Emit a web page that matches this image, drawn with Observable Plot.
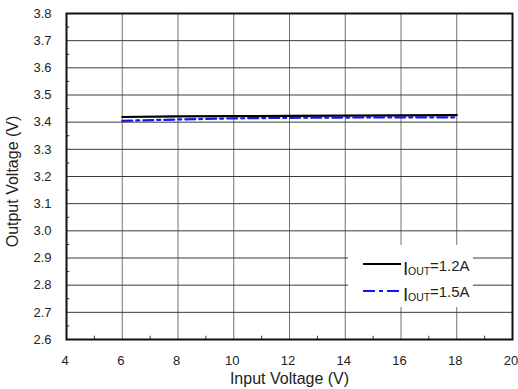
<!DOCTYPE html>
<html>
<head>
<meta charset="utf-8">
<script src="https://cdn.jsdelivr.net/npm/d3@7"></script>
<script src="https://cdn.jsdelivr.net/npm/@observablehq/plot@0.6"></script>
<style>
  html, body { margin: 0; padding: 0; background: #fff; }
  #chart { position: relative; width: 518px; height: 389px; font-family: "Liberation Sans", Arial, sans-serif; }
  #legend { position: absolute; left: 348px; top: 245px; width: 125px; height: 62px; background: #fff; }
</style>
</head>
<body>
<div id="chart"></div>
<script>
// Data
const vin = [6, 8, 10, 12, 14, 16, 18];
const vout12 = [3.419, 3.421, 3.422, 3.423, 3.424, 3.425, 3.426];
const vout15 = [3.405, 3.410, 3.414, 3.416, 3.417, 3.418, 3.418];
const xTicks = [4, 6, 8, 10, 12, 14, 16, 18, 20];
const yTicks = [2.6, 2.7, 2.8, 2.9, 3.0, 3.1, 3.2, 3.3, 3.4, 3.5, 3.6, 3.7, 3.8];
const xMinor = [5, 7, 9, 11, 13, 15, 17, 19];
const yMinor = [2.65, 2.75, 2.85, 2.95, 3.05, 3.15, 3.25, 3.35, 3.45, 3.55, 3.65, 3.75];
const seriesNames = ["1.2A", "1.5A"];
const xTitle = "Input Voltage (V)";
const yTitle = "Output Voltage (V)";

const d12 = vin.map((x, i) => ({x, y: vout12[i]}));
const d15 = vin.map((x, i) => ({x, y: vout15[i]}));

const plot = Plot.plot({
  width: 518,
  height: 389,
  marginLeft: 66,
  marginRight: 6,
  marginTop: 13,
  marginBottom: 50,
  style: {fontFamily: "'Liberation Sans', Arial, sans-serif", fontSize: "13px", color: "#222", background: "#fff"},
  x: {domain: [4, 20]},
  y: {domain: [2.6, 3.8]},
  marks: [
    Plot.gridX(xTicks, {stroke: "#707070", strokeOpacity: 1, strokeWidth: 1}),
    Plot.gridY(yTicks, {stroke: "#3a3a3a", strokeOpacity: 1, strokeWidth: 1}),
    Plot.ruleY(yMinor, {x1: 4, x2: 4.12, stroke: "#333", strokeWidth: 1}),
    Plot.ruleX(xMinor, {y1: 2.6, y2: 2.612, stroke: "#333", strokeWidth: 1}),
    Plot.line(d12, {x: "x", y: "y", stroke: "#000", strokeWidth: 2.2}),
    Plot.line(d15, {x: "x", y: "y", stroke: "#1515ee", strokeWidth: 2.2, strokeDasharray: "10,4,3,4"}),
    Plot.frame({stroke: "#111", strokeWidth: 2}),
    Plot.axisX({ticks: xTicks, tickSize: 0, tickPadding: 16, dx: -1.5, label: null, fontSize: 13}),
    Plot.axisY({ticks: yTicks, tickSize: 0, tickPadding: 15, label: null, fontSize: 13, tickFormat: d3.format(".1f")}),
    Plot.text([xTitle], {frameAnchor: "bottom", textAnchor: "middle", dy: 44, fontSize: 16, fill: "#222"}),
    Plot.text([yTitle], {frameAnchor: "left", textAnchor: "middle", dx: -54, dy: 5, rotate: -90, fontSize: 16, fill: "#222"})
  ]
});

const chart = document.getElementById("chart");
chart.appendChild(plot);

// Legend (overlay, white box hides grid lines)
const legend = document.createElement("div");
legend.id = "legend";
legend.innerHTML = `
<svg width="125" height="62" xmlns="http://www.w3.org/2000/svg" style="font-family:'Liberation Sans', Arial, sans-serif;fill:#222">
  <line x1="15" x2="53" y1="19" y2="19" stroke="#000" stroke-width="2.2"/>
  <text x="55" y="30" font-size="19">I</text>
  <text x="60" y="30" font-size="10.5">OUT</text>
  <text x="82" y="26" font-size="15">=${seriesNames[0]}</text>
  <line x1="15" x2="53" y1="46" y2="46" stroke="#1515ee" stroke-width="2.2" stroke-dasharray="12,4,4,4"/>
  <text x="55" y="56" font-size="19">I</text>
  <text x="60" y="56" font-size="10.5">OUT</text>
  <text x="82" y="52" font-size="15">=${seriesNames[1]}</text>
</svg>`;
chart.appendChild(legend);
</script>
</body>
</html>
